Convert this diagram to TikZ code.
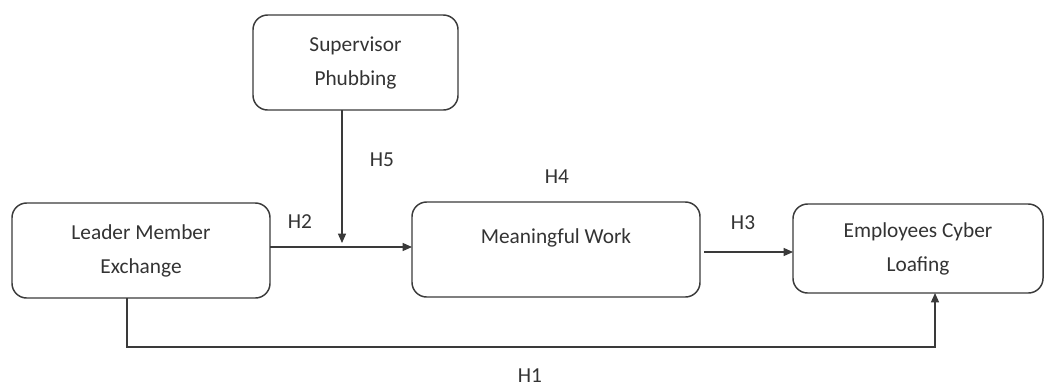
\documentclass[tikz,border=0pt]{standalone}
\usepackage{fontspec}
\setmainfont{Carlito}
\usetikzlibrary{arrows.meta}
\definecolor{edge}{HTML}{3A3A3A}
\definecolor{txt}{HTML}{333333}
\tikzset{
  box/.style={draw=edge, line width=1.1pt, rounded corners=11pt, align=center, inner sep=0pt, outer sep=0pt, text=txt},
  conn/.style={draw=edge, line width=0.9pt, -{Triangle[length=7pt,width=6pt]}},
  hlabel/.style={text=txt, inner sep=0pt}
}
\begin{document}
\begin{tikzpicture}[x=0.75pt,y=-0.75pt,font=\fontsize{16pt}{25.5pt}\selectfont]
\useasboundingbox (0,0) rectangle (1044,387);
\node[box, minimum width=193.5pt, minimum height=71.25pt] (lmx) at (141,250.5) {Leader Member\\Exchange};
\node[box, minimum width=153.75pt, minimum height=71.25pt] (sup) at (355.5,62.5) {Supervisor\\Phubbing};
\node[box, minimum width=216pt, minimum height=71.25pt] (mw) at (556,249.5) {Meaningful Work\\[-13.5pt]\strut};
\node[box, minimum width=187.5pt, minimum height=66.75pt] (ecl) at (918,248.5) {Employees Cyber\\Loafing};
% connectors
\coordinate (h5end) at (342,243);
\draw[conn] (sup.south -| h5end) -- (h5end);
\draw[conn] (lmx.east |- 0,247) -- (mw.west |- 0,247);
\coordinate (h3start) at (704,252);
\draw[conn] (h3start) -- (ecl.west |- h3start);
\coordinate (h1a) at (127,347);
\coordinate (h1b) at (935,347);
\draw[conn] (lmx.south -| h1a) -- (h1a) -- (h1b) -- (ecl.south -| h1b);
% labels
\node[hlabel] (l2) at (300,222) {H2};
\node[hlabel] (l5) at (382,160) {H5};
\node[hlabel] (l4) at (557,177) {H4};
\node[hlabel] (l3) at (743,223) {H3};
\node[hlabel] (l1) at (530,376) {H1};
\end{tikzpicture}
\end{document}
